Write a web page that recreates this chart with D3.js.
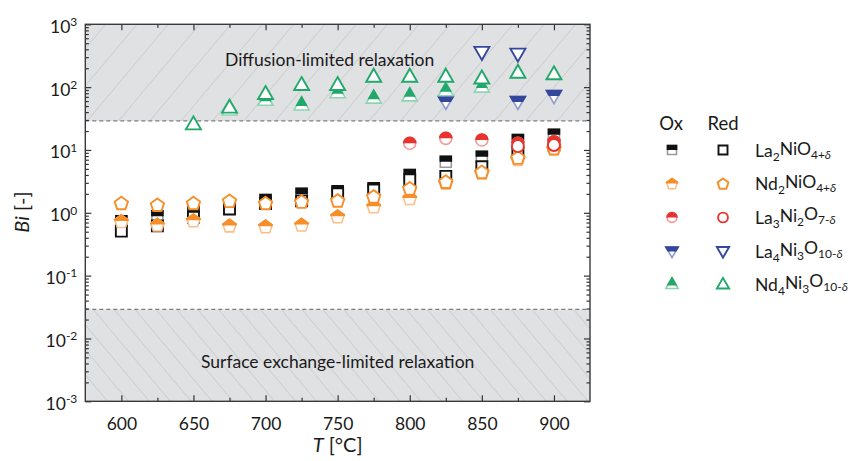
<!DOCTYPE html>
<html><head><meta charset="utf-8">
<script src="https://cdn.jsdelivr.net/npm/d3@7"></script>
<style>
body{margin:0;background:#fff}
text{font-family:Lato,"Open Sans",sans-serif;fill:#1a1a1a}
</style>
</head><body>
<svg id="chart" width="852" height="461"></svg>
<script>
// ---------- data ----------
const temperatures = [600,625,650,675,700,725,750,775,800,825,850,875,900];
const la2nio4Ox   = [0.73,0.88,1.03,1.25,1.6,2.0,2.2,2.45,4.0,6.5,7.8,14.4,17.4];
const la2nio4Red  = [0.51,0.62,0.85,1.15,1.4,1.55,2.0,2.3,3.35,3.8,5.4,8.9,12.0];
const nd2nio4Ox   = [0.74,0.65,0.76,0.63,0.61,0.65,0.88,1.27,1.72,3.0,4.4,7.2,10.5];
const nd2nio4Red  = [1.44,1.35,1.44,1.56,1.44,1.52,1.58,1.83,2.47,3.15,4.5,7.6,10.8];
const la3ni2o7Ox  = [null,null,null,null,null,null,null,null,12.8,15.3,14.4,12.8,13.5];
const la3ni2o7Red = [null,null,null,null,null,null,null,null,null,null,null,11.5,12.0];
const la4ni3o10Ox = [null,null,null,null,null,null,null,null,null,58,null,58,72];
const la4ni3o10Red= [null,null,null,null,null,null,null,null,null,null,357,335,null];
const nd4ni3o10Ox = [null,null,null,44,63,53,83,68,74,89,102,null,null];
const nd4ni3o10Red= [null,null,26,48,79,110,110,149,149,149,140,173,163];

const xTickValues = [600,650,700,750,800,850,900];
const yTickExponents = [-3,-2,-1,0,1,2,3];
const diffusionLimit = 29;
const surfaceLimit = 0.029;

const materials = [
  {name:[["La",0],["2",1],["NiO",0],["4+",1],["δ",2]], shape:"square",   color:"#111111", light:"#9a9a9a", ox:la2nio4Ox,  red:la2nio4Red},
  {name:[["Nd",0],["2",1],["NiO",0],["4+",1],["δ",2]], shape:"pentagon", color:"#f68e2a", light:"#f9c08a", ox:nd2nio4Ox,  red:nd2nio4Red},
  {name:[["La",0],["3",1],["Ni",0],["2",1],["O",0],["7-",1],["δ",2]], shape:"circle", color:"#e8332f", light:"#f29a98", ox:la3ni2o7Ox, red:la3ni2o7Red},
  {name:[["La",0],["4",1],["Ni",0],["3",1],["O",0],["10-",1],["δ",2]], shape:"triDown", color:"#33479c", light:"#8f9bcc", ox:la4ni3o10Ox, red:la4ni3o10Red},
  {name:[["Nd",0],["4",1],["Ni",0],["3",1],["O",0],["10-",1],["δ",2]], shape:"triUp", color:"#21a86a", light:"#8fd3b3", ox:nd4ni3o10Ox, red:nd4ni3o10Red}
];

// ---------- layout ----------
const svg = d3.select("#chart");
const L = 85.3, R = 590, T = 24.3, B = 401.3;
const x = d3.scaleLinear().domain([575,925]).range([L,R]);
const y = d3.scaleLog().domain([1e-3,1e3]).range([B,T]);

const defs = svg.append("defs");
function hatch(id, angle, spacing){
  const p = defs.append("pattern").attr("id",id).attr("patternUnits","userSpaceOnUse")
    .attr("width",spacing).attr("height",spacing).attr("patternTransform",`rotate(${angle})`);
  p.append("rect").attr("width",spacing).attr("height",spacing).attr("fill","#e0e1e3");
  p.append("line").attr("x1",0).attr("y1",0).attr("x2",0).attr("y2",spacing)
    .attr("stroke","#b6b6b8").attr("stroke-width",0.85);
}
hatch("hatchTop", 40, 24);
hatch("hatchBot", -40, 16);
defs.append("clipPath").attr("id","clipPlot").append("rect")
  .attr("x",L).attr("y",T).attr("width",R-L).attr("height",B-T);

const plot = svg.append("g").attr("clip-path","url(#clipPlot)");
plot.append("rect").attr("x",L).attr("y",T).attr("width",R-L).attr("height",y(diffusionLimit)-T)
  .attr("fill","url(#hatchTop)");
plot.append("rect").attr("x",L).attr("y",y(surfaceLimit)).attr("width",R-L).attr("height",B-y(surfaceLimit))
  .attr("fill","url(#hatchBot)");
[diffusionLimit, surfaceLimit].forEach(v=>{
  plot.append("line").attr("x1",L).attr("x2",R).attr("y1",y(v)).attr("y2",y(v))
    .attr("stroke","#7d7d7d").attr("stroke-width",1.2).attr("stroke-dasharray","4,3");
});

svg.append("text").attr("x",(L+R)/2-8).attr("y",66).attr("text-anchor","middle")
  .style("font-size","17.5px").text("Diffusion-limited relaxation");
svg.append("text").attr("x",(L+R)/2).attr("y",368).attr("text-anchor","middle")
  .style("font-size","17.5px").text("Surface exchange-limited relaxation");

// ---------- axes ----------
const majorY = yTickExponents.map(e=>Math.pow(10,e));
const minorY = [];
yTickExponents.slice(0,-1).forEach(e=>{ for(let m=2;m<=9;m++) minorY.push(m*Math.pow(10,e)); });
const minorX = [625,675,725,775,825,875];

function styleAxis(g){
  g.select(".domain").remove();
  g.selectAll(".tick line").attr("stroke","#333").attr("stroke-width",1.2);
}
svg.append("g").attr("transform",`translate(${L},0)`)
  .call(d3.axisLeft(y).tickValues(minorY).tickSize(-3.5).tickFormat("")).call(styleAxis);
svg.append("g").attr("transform",`translate(${R},0)`)
  .call(d3.axisRight(y).tickValues(minorY).tickSize(-3.5).tickFormat("")).call(styleAxis);
svg.append("g").attr("transform",`translate(${R},0)`)
  .call(d3.axisRight(y).tickValues(majorY).tickSize(-6).tickFormat("")).call(styleAxis);
const yAx = svg.append("g").attr("transform",`translate(${L},0)`)
  .call(d3.axisLeft(y).tickValues(majorY).tickSize(-6).tickPadding(13).tickFormat("")).call(styleAxis);
yAx.selectAll(".tick text").each(function(d){
  const t = d3.select(this).style("font-size","17.5px").attr("fill","#1a1a1a").attr("x",-8).attr("dy","0.45em");
  t.append("tspan").text("10");
  t.append("tspan").attr("dy","-0.55em").style("font-size","12px").text(String(Math.round(Math.log10(d))));
});
const xAx = svg.append("g").attr("transform",`translate(0,${B})`)
  .call(d3.axisBottom(x).tickValues(xTickValues).tickSize(-6).tickPadding(16).tickFormat(d3.format("d"))).call(styleAxis);
xAx.selectAll(".tick text").style("font-size","17.5px").attr("fill","#1a1a1a");
svg.append("g").attr("transform",`translate(0,${B})`)
  .call(d3.axisBottom(x).tickValues(minorX).tickSize(-3.5).tickFormat("")).call(styleAxis);
svg.append("g").attr("transform",`translate(0,${T})`)
  .call(d3.axisTop(x).tickValues(xTickValues).tickSize(-6).tickFormat("")).call(styleAxis);
svg.append("g").attr("transform",`translate(0,${T})`)
  .call(d3.axisTop(x).tickValues(minorX).tickSize(-3.5).tickFormat("")).call(styleAxis);

svg.append("rect").attr("x",L).attr("y",T).attr("width",R-L).attr("height",B-T)
  .attr("fill","none").attr("stroke","#3a3a3a").attr("stroke-width",1.4);

// axis titles
const xt = svg.append("text").attr("x",(L+R)/2).attr("y",452).attr("text-anchor","middle").style("font-size","20px");
xt.append("tspan").style("font-style","italic").text("T");
xt.append("tspan").text(" [°C]");
const yt = svg.append("text").attr("transform","translate(29,212) rotate(-90)").attr("text-anchor","middle").style("font-size","20px");
yt.append("tspan").style("font-style","italic").text("Bi");
yt.append("tspan").text(" [-]");

// ---------- markers ----------
defs.append("clipPath").attr("id","topHalf").append("rect").attr("x",-20).attr("y",-20).attr("width",40).attr("height",20);
defs.append("clipPath").attr("id","topTri").append("rect").attr("x",-20).attr("y",-20).attr("width",40).attr("height",21.5);
function shapePath(shape, s){
  if(shape==="square") return `M${-5.5*s},${-5.5*s}h${11*s}v${11*s}h${-11*s}Z`;
  if(shape==="circle") { const r=6*s; return `M${-r},0A${r},${r} 0 1,0 ${r},0A${r},${r} 0 1,0 ${-r},0Z`; }
  if(shape==="pentagon"){ const r=7*s; return d3.range(5).map((k,i)=>{const a=(-90+72*k)*Math.PI/180; return (i?"L":"M")+(r*Math.cos(a)).toFixed(2)+","+(r*Math.sin(a)+0.8*s).toFixed(2);}).join("")+"Z"; }
  if(shape==="triUp") return `M0,${-7.5*s}L${7.5*s},${5.5*s}L${-7.5*s},${5.5*s}Z`;
  if(shape==="triDown") return `M0,${7.5*s}L${7.5*s},${-5.5*s}L${-7.5*s},${-5.5*s}Z`;
}
function drawMarker(g, m, kind, s){
  const d = shapePath(m.shape, s);
  if(kind==="red"){
    g.append("path").attr("d",d).attr("fill","#fff").attr("stroke",m.color).attr("stroke-width",1.9);
  } else {
    g.append("path").attr("d",d).attr("fill","#fff").attr("stroke",m.light).attr("stroke-width",1.6);
    g.append("path").attr("d",d).attr("fill",m.color).attr("stroke",m.color).attr("stroke-width",1.6)
      .attr("clip-path", m.shape==="triUp" ? "url(#topTri)" : "url(#topHalf)");
  }
}
const markG = svg.append("g");
materials.forEach(m=>{
  ["ox","red"].forEach(kind=>{
    const pts = temperatures.map((t,i)=>({t, v:m[kind][i]})).filter(p=>p.v!=null);
    markG.selectAll(null).data(pts).enter().append("g")
      .attr("transform",p=>`translate(${x(p.t)},${y(p.v)})`)
      .each(function(){ drawMarker(d3.select(this), m, kind, 1); });
  });
});

// ---------- legend ----------
const lg = svg.append("g");
lg.append("text").attr("x",671).attr("y",130).attr("text-anchor","middle").style("font-size","18.5px").text("Ox");
lg.append("text").attr("x",723).attr("y",130).attr("text-anchor","middle").style("font-size","18.5px").text("Red");
const rowY = [150,183.5,217.5,251.5,284];
materials.forEach((m,i)=>{
  drawMarker(lg.append("g").attr("transform",`translate(672,${rowY[i]})`), m, "ox", 0.82);
  drawMarker(lg.append("g").attr("transform",`translate(723,${rowY[i]})`), m, "red", 0.82);
  const t = lg.append("text").attr("x",755).attr("y",rowY[i]+6.5).style("font-size","17.5px");
  let shifted = false;
  m.name.forEach(([s,type])=>{
    const sp = t.append("tspan").text(s);
    if(type>=1){
      sp.style("font-size","12px");
      if(!shifted){ sp.attr("dy","0.35em"); shifted=true; }
      if(type===2) sp.style("font-style","italic");
    } else if(shifted){ sp.attr("dy","-0.35em"); shifted=false; }
  });
});
</script>
</body></html>
